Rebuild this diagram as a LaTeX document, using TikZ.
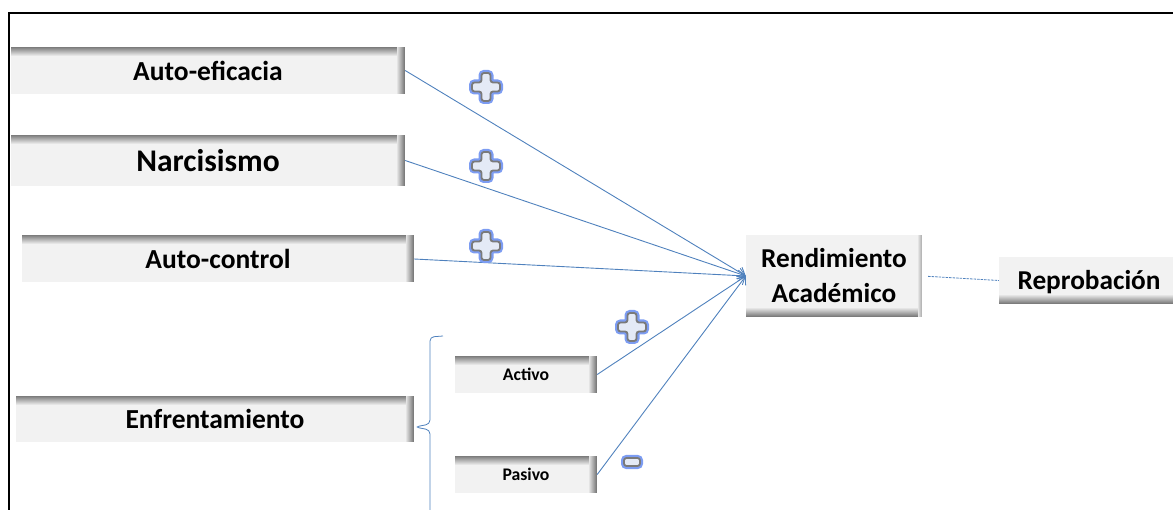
\documentclass[tikz,border=0pt]{standalone}
\usepackage{fontspec}
\setmainfont{Carlito}
\usetikzlibrary{arrows.meta}
\definecolor{boxfill}{HTML}{F2F2F2}
\definecolor{shadowc}{HTML}{7C7C7C}
\definecolor{linkc}{HTML}{4F81BD}
\definecolor{glowc}{HTML}{7C9CF2}
\definecolor{signfill}{HTML}{E4EAF6}
\definecolor{signedge}{HTML}{7A7A7A}
\tikzset{
  topshadow/.code={},
  varbox/.style={fill=boxfill, inner sep=0pt, text=black,
    font=\bfseries\fontsize{27.5}{30}\selectfont,
    path picture={
      \foreach \i in {0,...,8}{
        \pgfmathtruncatemacro\p{100*(1-\i/9)}
        \fill[shadowc!\p!boxfill] ([yshift={-\i*1pt}]path picture bounding box.north west)
          rectangle ([yshift={-(\i+1)*1pt}]path picture bounding box.north east);
      }
      \foreach \i in {0,...,7}{
        \pgfmathtruncatemacro\p{100*(1-\i/8)}
        \fill[shadowc!\p!boxfill] ([xshift={-\i*1pt}]path picture bounding box.north east)
          rectangle ([xshift={-(\i+1)*1pt}]path picture bounding box.south east);
      }
    }},
  outbox/.style={fill=boxfill, inner sep=0pt, text=black, align=center,
    font=\bfseries\fontsize{27.3}{35}\selectfont,
    path picture={
      \foreach \i in {0,...,8}{
        \pgfmathtruncatemacro\p{100*(1-\i/9)}
        \fill[shadowc!\p!boxfill] ([yshift={\i*1pt}]path picture bounding box.south west)
          rectangle ([yshift={(\i+1)*1pt}]path picture bounding box.south east);
      }
      \foreach \i in {0,...,3}{
        \pgfmathtruncatemacro\p{50*(1-\i/4)}
        \fill[shadowc!\p!boxfill] ([xshift={-\i*1pt}]path picture bounding box.north east)
          rectangle ([xshift={-(\i+1)*1pt}]path picture bounding box.south east);
      }
    }},
  link/.style={draw=linkc, line width=0.9pt, -{Straight Barb[length=7pt,width=11pt]}},
  plussign/.pic={
    \path[draw=glowc, line width=6pt, rounded corners=2.5pt]
      (-4.5,-14) -- (4.5,-14) -- (4.5,-4.5) -- (14,-4.5) -- (14,4.5) -- (4.5,4.5) -- (4.5,14)
      -- (-4.5,14) -- (-4.5,4.5) -- (-14,4.5) -- (-14,-4.5) -- (-4.5,-4.5) -- cycle;
    \path[draw=signedge, line width=1.8pt, fill=signfill, rounded corners=2.5pt]
      (-4.5,-14) -- (4.5,-14) -- (4.5,-4.5) -- (14,-4.5) -- (14,4.5) -- (4.5,4.5) -- (4.5,14)
      -- (-4.5,14) -- (-4.5,4.5) -- (-14,4.5) -- (-14,-4.5) -- (-4.5,-4.5) -- cycle;
  },
  minussign/.pic={
    \path[draw=glowc, line width=6pt, rounded corners=2.5pt] (-8,-4) rectangle (8,4);
    \path[draw=signedge, line width=1.8pt, fill=signfill, rounded corners=2.5pt] (-8,-4) rectangle (8,4);
  }
}
\begin{document}
\begin{tikzpicture}[x=1pt, y=-1pt]
\useasboundingbox (0,0) rectangle (1173,510);
% frame
\draw[line width=1.3pt] (9,510) -- (9,13) -- (1173,13);
% boxes
\node[varbox, minimum width=394pt, minimum height=47pt] (ae) at (208,70.5) {Auto-eficacia};
\node[varbox, minimum width=394pt, minimum height=51pt, font=\bfseries\fontsize{31.5}{34}\selectfont] (na) at (208,160.5) {Narcisismo};
\node[varbox, minimum width=392pt, minimum height=47pt] (ac) at (218,259) {Auto-control};
\node[varbox, minimum width=398pt, minimum height=46pt] (en) at (215,419) {Enfrentamiento};
\node[varbox, minimum width=142pt, minimum height=37pt, font=\bfseries\fontsize{17.7}{20}\selectfont] (act) at (526,374.5) {Activo};
\node[varbox, minimum width=142pt, minimum height=37pt, font=\bfseries\fontsize{17.7}{20}\selectfont] (pas) at (526,474.5) {Pasivo};
\node[outbox, minimum width=176pt, minimum height=82pt] (rend) at (834,276) {Rendimiento\\Académico};
\node[outbox, minimum width=180pt, minimum height=47pt, text depth=1pt, yshift=-2pt] (rep) at (1089,278.5) {Reprobación};
% brace
\draw[linkc, line width=0.8pt, rounded corners=4pt]
  (443,336) -- (430,337) -- (430,424) -- (415,427) -- (430,430) -- (430,515);
% connectors
\draw[link] (ae.east) -- (rend.west);
\draw[link] (na.east) -- (rend.west);
\draw[link] (ac.east) -- (rend.west);
\draw[link] (act.east) -- (rend.west);
\draw[link] (pas.east) -- (rend.west);
\draw[linkc, line width=0.8pt, dash pattern=on 2.5pt off 1pt, shorten <=6pt] (rend.east) -- (rep.west);
% signs
\pic at (486,87) {plussign};
\pic at (486,166) {plussign};
\pic at (486,246) {plussign};
\pic at (632,327) {plussign};
\pic at (632,462) {minussign};
\end{tikzpicture}
\end{document}
